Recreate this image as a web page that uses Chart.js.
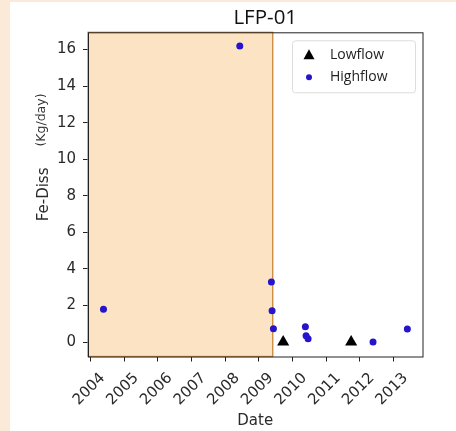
<!DOCTYPE html>
<html>
<head>
<meta charset="utf-8">
<script src="https://cdn.jsdelivr.net/npm/chart.js@4"></script>
<style>
  html, body { margin: 0; padding: 0; background: #fbead7; }
  #wrap { position: absolute; left: 10px; top: 2px; width: 446px; height: 429px; background: #fff; }
</style>
</head>
<body>
<div id="wrap"><canvas id="grafico" width="446" height="429"></canvas></div>
<script>
// Dados (anos decimais)
const lowflowX = [2009.72, 2011.74];
const lowflowY = [0, 0];
const highflowX = [2004.38, 2008.43, 2009.37, 2009.39, 2009.43, 2010.38, 2010.40, 2010.46, 2012.39, 2013.41];
const highflowY = [1.80, 16.19, 3.28, 1.71, 0.73, 0.84, 0.34, 0.18, 0.00, 0.71];
const anos = [2004, 2005, 2006, 2007, 2008, 2009, 2010, 2011, 2012, 2013];
const valoresY = [0, 2, 4, 6, 8, 10, 12, 14, 16];
const faixaFim = 2009.41; // fim da área sombreada
const titulo = "LFP-01";

const eixoFonte = { family: "DejaVu Sans", size: 15 };

const pontos = (xs, ys) => xs.map((x, i) => ({ x: x, y: ys[i] }));

// área sombreada, moldura, título, unidade e legenda
const fundoPlugin = {
  id: "fundo",
  beforeDatasetsDraw(chart) {
    const { ctx, chartArea: a, scales } = chart;
    const xFim = scales.x.getPixelForValue(faixaFim);
    ctx.save();
    ctx.fillStyle = "#fce3c3";
    ctx.fillRect(a.left, a.top, xFim - a.left, a.bottom - a.top);
    ctx.strokeStyle = "#c8873a";
    ctx.lineWidth = 1.3;
    ctx.strokeRect(a.left, a.top, xFim - a.left, a.bottom - a.top);
    ctx.strokeStyle = "#222";
    ctx.lineWidth = 1;
    ctx.strokeRect(a.left + 0.5, a.top + 0.5, a.right - a.left, a.bottom - a.top);
    ctx.restore();
  },
  afterDraw(chart) {
    const { ctx, chartArea: a } = chart;
    ctx.save();
    // título (um pouco à direita do centro, como no original)
    ctx.fillStyle = "#111";
    ctx.font = "20.5px 'Open Sans'";
    ctx.textAlign = "center";
    ctx.textBaseline = "middle";
    ctx.fillText(titulo, (a.left + a.right) / 2 + 10, 16.5);

    // unidade do eixo y
    ctx.translate(32, 118);
    ctx.rotate(-Math.PI / 2);
    ctx.fillStyle = "#333";
    ctx.font = "12.5px 'DejaVu Sans'";
    ctx.fillText("(Kg/day)", 0, 0);
    ctx.restore();

    // legenda
    const bw = 123, bh = 52;
    const bx = a.right - 7.5 - bw, by = a.top + 8;
    ctx.save();
    ctx.fillStyle = "#fff";
    ctx.strokeStyle = "#dcdcdc";
    ctx.lineWidth = 1;
    ctx.beginPath();
    ctx.roundRect(bx + 0.5, by + 0.5, bw, bh, 3);
    ctx.fill();
    ctx.stroke();
    ctx.font = "14px 'Open Sans'";
    ctx.textBaseline = "middle";
    chart.data.datasets.forEach((ds, i) => {
      const cx = bx + 17, cy = by + 15 + i * 22;
      ctx.fillStyle = ds.backgroundColor;
      ctx.beginPath();
      if (ds.pointStyle === "triangle") {
        ctx.moveTo(cx, cy - 6);
        ctx.lineTo(cx + 5.5, cy + 4);
        ctx.lineTo(cx - 5.5, cy + 4);
        ctx.closePath();
      } else {
        ctx.arc(cx, cy, 3, 0, Math.PI * 2);
      }
      ctx.fill();
      ctx.fillStyle = "#222";
      ctx.fillText(ds.label, bx + 38, cy);
    });
    ctx.restore();
  }
};

new Chart(document.getElementById("grafico"), {
  type: "scatter",
  data: {
    datasets: [
      {
        label: "Lowflow",
        data: pontos(lowflowX, lowflowY),
        pointStyle: "triangle",
        pointRadius: 7,
        backgroundColor: "#000",
        borderColor: "#000",
        borderWidth: 0
      },
      {
        label: "Highflow",
        data: pontos(highflowX, highflowY),
        pointStyle: "circle",
        pointRadius: 3.5,
        backgroundColor: "#2614cc",
        borderColor: "#2614cc",
        borderWidth: 0
      }
    ]
  },
  options: {
    responsive: false,
    animation: false,
    layout: { padding: { left: 0, right: 33.5, top: 30.3, bottom: 0 } },
    plugins: {
      legend: { display: false },
      tooltip: { enabled: false },
      title: { display: false }
    },
    scales: {
      x: {
        type: "linear",
        min: 2003.92,
        max: 2013.86,
        afterBuildTicks: s => { s.ticks = anos.map(v => ({ value: v })); },
        afterFit: s => { s.height = 74.5; },
        grid: { drawOnChartArea: false, drawTicks: true, tickLength: 5, color: "#222" },
        border: { display: false },
        ticks: {
          autoSkip: false,
          minRotation: 45,
          maxRotation: 45,
          labelOffset: 12,
          padding: 8,
          color: "#2a2a2a",
          font: eixoFonte,
          callback: v => String(v)
        },
        title: {
          display: true,
          text: "Date",
          color: "#2a2a2a",
          font: eixoFonte,
          padding: { top: 0, bottom: 1 }
        }
      },
      y: {
        min: -0.79,
        max: 16.94,
        afterBuildTicks: s => { s.ticks = valoresY.map(v => ({ value: v })); },
        afterFit: s => { s.width = 78; },
        grid: { drawOnChartArea: false, drawTicks: true, tickLength: 5, color: "#222" },
        border: { display: false },
        ticks: {
          padding: 7,
          color: "#2a2a2a",
          font: eixoFonte,
          callback: v => String(v)
        },
        title: {
          display: true,
          text: "Fe-Diss",
          color: "#2a2a2a",
          font: eixoFonte,
          padding: { top: 25, bottom: 0 }
        }
      }
    }
  },
  plugins: [fundoPlugin]
});
</script>
</body>
</html>
